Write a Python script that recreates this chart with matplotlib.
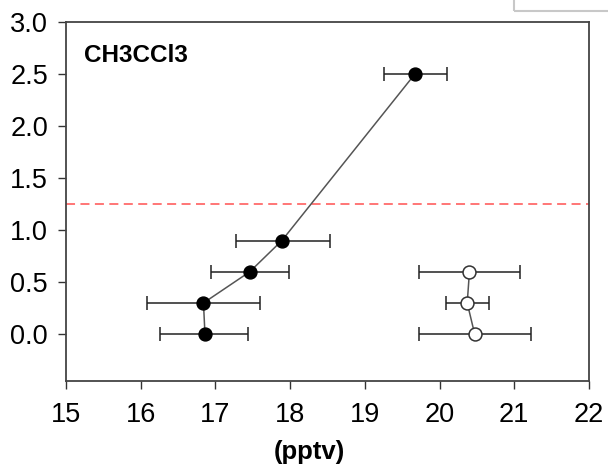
import matplotlib
matplotlib.use("Agg")
import matplotlib.pyplot as plt
from matplotlib.patches import Rectangle

plt.rcParams['font.family'] = ['Liberation Sans', 'DejaVu Sans']

# Filled series
filled_x = [16.86, 16.84, 17.46, 17.89, 19.67]
filled_y = [0.0, 0.3, 0.6, 0.9, 2.5]
filled_lo = [16.26, 16.09, 16.94, 17.27, 19.25]
filled_hi = [17.44, 17.59, 17.99, 18.53, 20.10]

# Open series
open_x = [20.47, 20.37, 20.40]
open_y = [0.0, 0.3, 0.6]
open_lo = [19.72, 20.09, 19.72]
open_hi = [21.22, 20.66, 21.07]

ref_level = 1.25
xticks = [15, 16, 17, 18, 19, 20, 21, 22]
yticks = [0.0, 0.5, 1.0, 1.5, 2.0, 2.5, 3.0]
title = "CH3CCl3"
xlabel = "(pptv)"

fig = plt.figure(figsize=(6.08, 4.67), dpi=100)
ax = fig.add_axes([66/608, 1-381/467, (589-66)/608, (381-22)/467])

def xerr(x, lo, hi):
    return [[a - b for a, b in zip(x, lo)], [c - a for a, c in zip(x, hi)]]

ax.axhline(ref_level, color='#ff6b6b', lw=1.3, dashes=(5, 3), zorder=1)

ax.errorbar(filled_x, filled_y, xerr=xerr(filled_x, filled_lo, filled_hi),
            fmt='none', ecolor='#222222', elinewidth=1.1, capsize=5, capthick=1.1, zorder=2)
ax.plot(filled_x, filled_y, color='#555555', lw=1.1, zorder=3)
ax.plot(filled_x, filled_y, 'o', ms=9.3, mfc='black', mec='black', zorder=4)

ax.errorbar(open_x, open_y, xerr=xerr(open_x, open_lo, open_hi),
            fmt='none', ecolor='#222222', elinewidth=1.1, capsize=5, capthick=1.1, zorder=2)
ax.plot(open_x, open_y, color='#555555', lw=1.1, zorder=3)
ax.plot(open_x, open_y, 'o', ms=9.3, mfc='white', mec='#333333', mew=1.1, zorder=4)

ax.set_xlim(15, 22)
ax.set_ylim(-0.45, 3.0)
ax.set_xticks(xticks)
ax.set_xticklabels([str(t) for t in xticks])
ax.set_yticks(yticks)
ax.set_yticklabels([f"{t:.1f}" for t in yticks])
ax.tick_params(direction='out', length=6, width=1.0, color='#333333', labelsize=19.5)
ax.tick_params(axis='y', pad=7)
ax.tick_params(axis='x', pad=9)
for s in ax.spines.values():
    s.set_linewidth(1.3)
    s.set_color('#444444')

ax.text(0.034, 0.908, title, transform=ax.transAxes, fontsize=17.5, fontweight='bold',
        va='center', ha='left')
ax.text(0.465, (381-452)/359, xlabel, transform=ax.transAxes, fontsize=18.5,
        fontweight='bold', ha='center', va='center')

# fragment of neighbouring legend box at top right
fig.patches.append(Rectangle((514/608, 1-11/467), 0.2, 0.1, transform=fig.transFigure,
                             fill=False, edgecolor='#c8c8c8', lw=1.5))

fig.savefig("out.png", dpi=100)
